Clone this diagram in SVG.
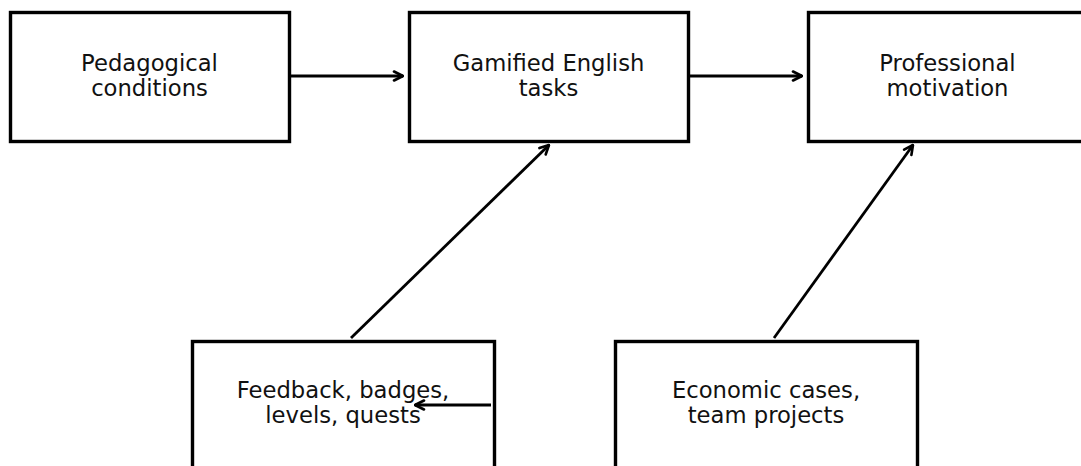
<svg xmlns="http://www.w3.org/2000/svg" width="1081" height="466" viewBox="0 0 1081 466">
<defs>
<style>
.box{fill:#fff;stroke:#000;stroke-width:3.4}
.lbl{font-family:"DejaVu Sans",sans-serif;font-size:22.7px;fill:#111;text-anchor:middle}
.conn{stroke:#000;stroke-width:2.8;fill:none;marker-end:url(#ah)}
</style>
<marker id="ah" viewBox="0 0 12 12" refX="11" refY="6" markerWidth="12" markerHeight="12" markerUnits="userSpaceOnUse" orient="auto">
<path d="M2,1.5 L11,6 L2,10.5" fill="none" stroke="#000" stroke-width="2.6" stroke-linecap="round" stroke-linejoin="round"/>
</marker>
</defs>
<rect width="1081" height="466" fill="#fff"/>
<g id="n1"><rect class="box" x="10.5" y="12.5" width="279" height="129"/><text class="lbl" x="149.5" y="71">Pedagogical</text><text class="lbl" x="149.5" y="96">conditions</text></g>
<g id="n2"><rect class="box" x="409.5" y="12.5" width="279" height="129"/><text class="lbl" x="548.5" y="71">Gamified English</text><text class="lbl" x="548.5" y="96">tasks</text></g>
<g id="n3"><rect class="box" x="808.5" y="12.5" width="279" height="129"/><text class="lbl" x="947.5" y="71">Professional</text><text class="lbl" x="947.5" y="96">motivation</text></g>
<g id="n4"><rect class="box" x="192.5" y="341.5" width="302" height="140"/><text class="lbl" x="343" y="398">Feedback, badges,</text><text class="lbl" x="343" y="423">levels, quests</text></g>
<g id="n5"><rect class="box" x="615.5" y="341.5" width="302" height="140"/><text class="lbl" x="766" y="398">Economic cases,</text><text class="lbl" x="766" y="423">team projects</text></g>
<g id="connectors">
<line class="conn" x1="291" y1="76" x2="403" y2="76"/>
<line class="conn" x1="690" y1="76" x2="802" y2="76"/>
<line class="conn" x1="351" y1="338" x2="549" y2="145"/>
<line class="conn" x1="774" y1="338" x2="913" y2="145"/>
<line class="conn" x1="491" y1="405" x2="415" y2="405"/>
</g>
</svg>
